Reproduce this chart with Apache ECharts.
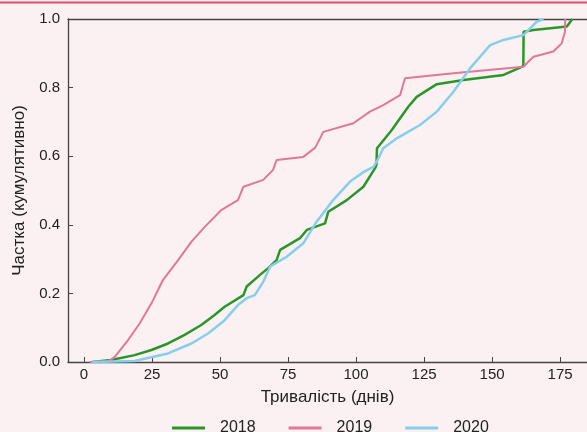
<!DOCTYPE html>
<html>
<head>
<meta charset="utf-8">
<script src="https://cdn.jsdelivr.net/npm/echarts@6/dist/echarts.min.js"></script>
<style>
html,body{margin:0;padding:0;background:#fbf1f3;}
#c{width:587px;height:432px;}
</style>
</head>
<body>
<div id="c"></div>
<script>
var xTicks = [0, 25, 50, 75, 100, 125, 150, 175];
var seriesNames = ['2018', '2019', '2020'];
var data2018 = [[3,0],[10,0.006],[18.6,0.02],[24.8,0.035],[30.9,0.054],[37,0.079],[43.1,0.108],[48,0.137],[51.7,0.161],[58.6,0.195],[59.8,0.22],[64.7,0.254],[67.6,0.273],[70.8,0.297],[72.1,0.327],[79.4,0.361],[81.9,0.385],[88.6,0.404],[89.8,0.438],[96.6,0.472],[102.7,0.511],[107,0.565],[107.5,0.575],[107.7,0.623],[113,0.675],[119.2,0.744],[122.3,0.773],[129.7,0.81],[139.5,0.822],[154.2,0.837],[160.3,0.858],[161.5,0.863],[161.6,0.963],[165.2,0.968],[177.5,0.978],[179.5,1.0]];
var data2019 = [[2,0],[9,0.002],[11.3,0.015],[16.2,0.064],[20.5,0.113],[24.8,0.171],[29,0.239],[34.6,0.297],[39.5,0.351],[44.4,0.394],[50.5,0.443],[53,0.455],[56.6,0.472],[58.6,0.511],[65.9,0.531],[69.5,0.56],[70.8,0.589],[80.6,0.598],[85,0.625],[88,0.671],[99,0.696],[105.1,0.73],[110,0.749],[116.2,0.778],[118,0.827],[135.8,0.842],[161.5,0.861],[165.2,0.89],[172.5,0.905],[175.6,0.929],[176.8,0.963],[176.9,1.0]];
var data2020 = [[3,0],[18.6,0.003],[30.9,0.025],[39.5,0.054],[45.6,0.083],[51.7,0.122],[56.6,0.166],[59.8,0.186],[62.8,0.195],[65.9,0.234],[68.4,0.278],[74.5,0.307],[80.6,0.346],[85.5,0.409],[91.6,0.472],[97.8,0.526],[103,0.555],[106.4,0.569],[107.6,0.584],[110,0.623],[115,0.652],[123.5,0.691],[129.7,0.73],[135.8,0.788],[141.9,0.856],[149.3,0.924],[154.2,0.939],[161.5,0.953],[164,0.973],[166.4,0.992],[168.9,1.0]];
var colors = ['#2a962a', '#e07898', '#87ceeb'];

var chart = echarts.init(document.getElementById('c'), null, {renderer:'canvas'});
var font = 'Liberation Sans, Arial, sans-serif';
function mk(name, d, i, w){
  return {name:name, type:'line', data:d, showSymbol:false, symbol:'none',
    lineStyle:{color:colors[i], width:w}, itemStyle:{color:colors[i]}, animation:false, z:2+i};
}
chart.setOption({
  backgroundColor:'#fbf1f3',
  animation:false,
  textStyle:{fontFamily:font},
  graphic:[{type:'rect', shape:{x:0,y:1.5,width:587,height:2}, style:{fill:'#dc4d64'}}],
  grid:{left:68, right:0, top:19, bottom:70},
  legend:{top:415, left:167, itemWidth:33, itemHeight:3, itemGap:33, icon:'rect',
    textStyle:{fontSize:16, color:'#222', fontFamily:font, padding:[0,0,0,10]}, data:seriesNames},
  xAxis:[{type:'value', min:-5.88, max:184.9, position:'bottom',
    name:'Тривалість (днів)', nameLocation:'middle', nameGap:27,
    nameTextStyle:{fontSize:17, color:'#222', fontFamily:font},
    axisLine:{show:true, onZero:false, lineStyle:{color:'#444', width:1.3}},
    axisTick:{show:true, inside:true, length:5, customValues:xTicks, lineStyle:{color:'#444'}},
    axisLabel:{customValues:xTicks, fontSize:15, color:'#222', margin:5, fontFamily:font},
    splitLine:{show:false}},
   {type:'value', min:-5.88, max:184.9, position:'top',
    axisLine:{show:true, onZero:false, lineStyle:{color:'#444', width:1.3}},
    axisTick:{show:false}, axisLabel:{show:false}, splitLine:{show:false}}],
  yAxis:{type:'value', min:0, max:1, interval:0.2,
    name:'Частка (кумулятивно)', nameLocation:'middle', nameGap:39,
    nameTextStyle:{fontSize:17, color:'#222', fontFamily:font},
    axisLine:{show:true, onZero:false, lineStyle:{color:'#444', width:1.3}},
    axisTick:{show:true, inside:true, length:5, lineStyle:{color:'#444'}},
    axisLabel:{fontSize:15, color:'#222', margin:8, fontFamily:font, formatter:function(v){return v.toFixed(1);}},
    splitLine:{show:false}},
  series:[mk('2018', data2018, 0, 2.5), mk('2019', data2019, 1, 2), mk('2020', data2020, 2, 2.5)]
});
</script>
</body>
</html>
